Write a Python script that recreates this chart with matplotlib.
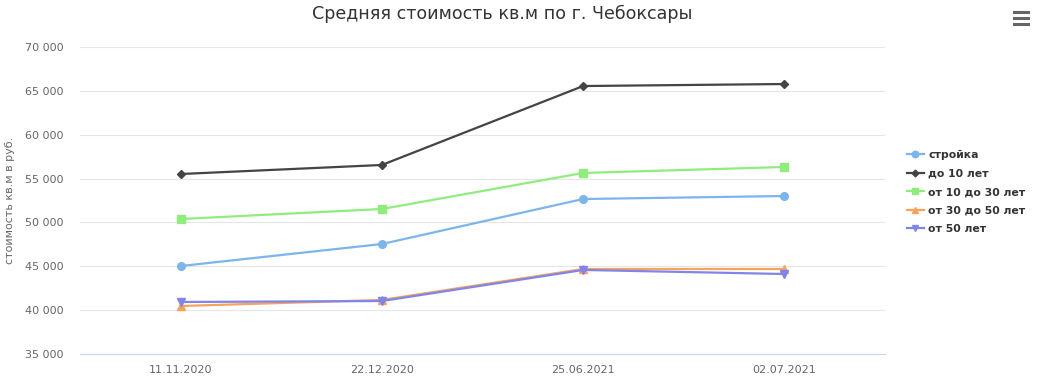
import matplotlib.pyplot as plt
from matplotlib.lines import Line2D

# Средняя стоимость кв.м, Чебоксары
dates = ['11.11.2020', '22.12.2020', '25.06.2021', '02.07.2021']
stroyka = [45030, 47540, 52670, 53010]
do10 = [55520, 56550, 65550, 65780]
ot10do30 = [50390, 51530, 55640, 56320]
ot30do50 = [40470, 41160, 44690, 44690]
ot50 = [40930, 41040, 44580, 44120]

series = [
    ('стройка', stroyka, '#7cb5ec', 'o', 5.5),
    ('до 10 лет', do10, '#434348', 'D', 4),
    ('от 10 до 30 лет', ot10do30, '#90ed7d', 's', 5.2),
    ('от 30 до 50 лет', ot30do50, '#f7a35c', '^', 5.5),
    ('от 50 лет', ot50, '#8085e9', 'v', 5.5),
]

W, H = 1043, 382
fig = plt.figure(figsize=(W / 100, H / 100), dpi=100)
ax = fig.add_axes([80 / W, (H - 354) / H, 805 / W, 307 / H])

x = list(range(len(dates)))
for name, vals, col, mk, ms in series:
    ax.plot(x, vals, color=col, marker=mk, markersize=ms, linewidth=1.6,
            label=name, zorder=3)

ax.set_xlim(-0.5, len(dates) - 0.5)
ax.set_ylim(35000, 70000)
ax.set_yticks(range(35000, 70001, 5000))
ax.set_yticklabels([f'{v:,}'.replace(',', ' ') for v in range(35000, 70001, 5000)])
ax.set_xticks(x)
ax.set_xticklabels(dates)
ax.tick_params(axis='both', colors='#666666', labelsize=8, length=0)
ax.tick_params(axis='y', pad=12)
ax.tick_params(axis='x', pad=8)
ax.grid(axis='y', color='#e6e6e6', linewidth=0.8)
ax.set_axisbelow(True)
for s in ['top', 'right', 'left']:
    ax.spines[s].set_visible(False)
ax.spines['bottom'].set_color('#ccd6eb')
ax.spines['bottom'].set_linewidth(0.8)

ax.set_ylabel('стоимость кв.м в руб.', color='#666666', fontsize=8)
ax.yaxis.set_label_coords((15 - 80) / 805, 0.5)
fig.text(502 / W, 1 - 14 / H, 'Средняя стоимость кв.м по г. Чебоксары',
         ha='center', va='center', fontsize=12.6, color='#333333')

leg = ax.legend(loc='center left', bbox_to_anchor=(897 / W, (H - 192) / H),
                bbox_transform=fig.transFigure, frameon=False,
                prop={'size': 7.8, 'weight': 'bold'}, handlelength=1.6,
                labelspacing=0.78, handletextpad=0.4, markerscale=0.85)
for t in leg.get_texts():
    t.set_color('#333333')

# menu icon
for yy in (12, 18, 24):
    fig.add_artist(Line2D([1014 / W, 1028 / W], [1 - yy / H] * 2,
                          color='#666666', linewidth=2.2, transform=fig.transFigure))

fig.savefig('out.png', dpi=100)
